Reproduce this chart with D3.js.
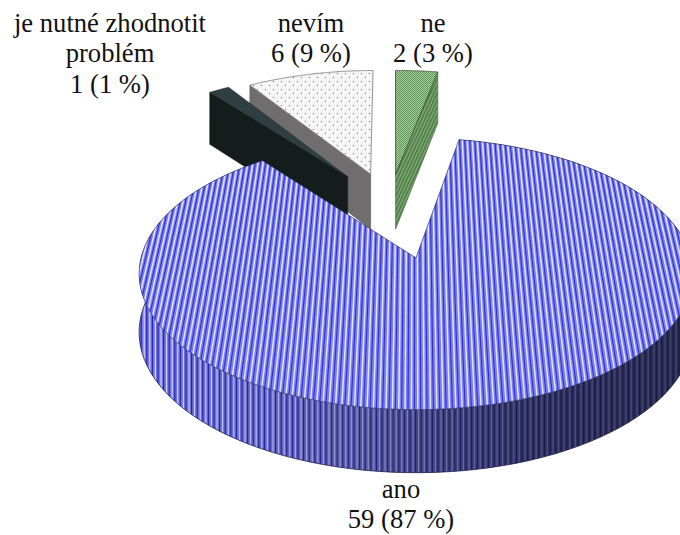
<!DOCTYPE html>
<html>
<head>
<meta charset="utf-8">
<style>
html,body{margin:0;padding:0;background:#fff}
svg{display:block}
text{font-family:"Liberation Serif","Times New Roman",serif;font-size:26.6px;fill:#111;text-anchor:middle}
</style>
<script src="https://cdn.jsdelivr.net/npm/d3@7"></script>
</head>
<body>
<svg id="chart" width="680" height="535"></svg>
<script>
// Survey answers, in drawing order round the pie
const categories = ["ano", "je nutné zhodnotit problém", "nevím", "ne"];
const counts = [59, 1, 6, 2];
const labelLines = [
  ["ano", "59 (87 %)"],
  ["je nutné zhodnotit", "problém", "1 (1 %)"],
  ["nevím", "6 (9 %)"],
  ["ne", "2 (3 %)"]
];
const labelAnchors = [[401, 498], [110, 32], [311, 32], [433, 32]];
const explode = [0.427, 0.29, 0.27, 0.26];
const hub = [-0.096, 0.416];
const firstAngle = 10.1 * Math.PI / 180;

const svg = d3.select("#chart");
const defs = svg.append("defs");

// Perspective of the tilted disc: unit-circle plane to screen
const tilt = 0.1176;
const xScale = d3.scaleLinear().domain([-1, 1]).range([414.5 - 275, 414.5 + 275]);
const yScale = d3.scaleLinear().domain([-1, 1]).range([258 + 134, 258 - 134]);
const thickness = v => 58 / (1 + 0.08 * v);
const project = (u, v, lower = false) => {
  const w = 1 + tilt * v;
  return [xScale(u / w), yScale(v / w) + (lower ? thickness(v) : 0)];
};

const arcs = d3.pie().sort(null).value(d => d)
  .startAngle(firstAngle).endAngle(firstAngle + 2 * Math.PI)(counts);

const slices = arcs.map((a, i) => {
  const mid = (a.startAngle + a.endAngle) / 2;
  const apex = [hub[0] + explode[i] * Math.sin(mid), hub[1] + explode[i] * Math.cos(mid)];
  const rim = t => [apex[0] + Math.sin(t), apex[1] + Math.cos(t)];
  return { a, apex, rim, name: categories[i] };
});

const line = d3.line();
const rimPoints = (s, t0, t1) => d3.range(0, 121).map(k => s.rim(t0 + (t1 - t0) * k / 120));
const facePath = s =>
  line([s.apex, ...rimPoints(s, s.a.startAngle, s.a.endAngle)].map(p => project(p[0], p[1]))) + "Z";
const strip = pts =>
  line([...pts.map(p => project(p[0], p[1])), ...pts.slice().reverse().map(p => project(p[0], p[1], true))]) + "Z";

// Fill patterns for the small slices
const dots = defs.append("pattern").attr("id", "dots").attr("patternUnits", "userSpaceOnUse")
  .attr("width", 8).attr("height", 8);
dots.append("rect").attr("width", 8).attr("height", 8).attr("fill", "#f6f6f6");
[[1.5, 1.5], [5.5, 5.5]].forEach(c => dots.append("circle")
  .attr("cx", c[0]).attr("cy", c[1]).attr("r", 0.75).attr("fill", "#8d8d8d"));

const weave = defs.append("pattern").attr("id", "weave").attr("patternUnits", "userSpaceOnUse")
  .attr("width", 2).attr("height", 2);
weave.append("rect").attr("width", 2).attr("height", 2).attr("fill", "#a3cd9a");
weave.append("rect").attr("width", 1).attr("height", 1).attr("fill", "#64975c");
weave.append("rect").attr("x", 1).attr("y", 1).attr("width", 1).attr("height", 1).attr("fill", "#64975c");

const hatch = defs.append("pattern").attr("id", "hatch").attr("patternUnits", "userSpaceOnUse")
  .attr("width", 3).attr("height", 3).attr("patternTransform", "rotate(25)");
hatch.append("rect").attr("width", 3).attr("height", 3).attr("fill", "#7ba772");
hatch.append("rect").attr("width", 1.2).attr("height", 3).attr("fill", "#47703f");

// Side shading of the large slice, darkening from left to right
const wallTone = (id, stops) => {
  const g = defs.append("linearGradient").attr("id", id).attr("gradientUnits", "userSpaceOnUse")
    .attr("x1", 139).attr("x2", 680).attr("y1", 0).attr("y2", 0);
  stops.forEach(s => g.append("stop").attr("offset", s[0]).attr("stop-color", s[1]));
};
wallTone("wallBase", [[0, "#7678de"], [0.2, "#6a6cc8"], [0.4, "#5658a4"], [0.55, "#3e4084"], [0.75, "#2e3066"], [1, "#2a2c5c"]]);
wallTone("wallDark", [[0, "#2424c4"], [0.2, "#2424b4"], [0.45, "#26267e"], [0.7, "#1a1a48"], [1, "#171738"]]);
wallTone("wallLight", [[0, "#dcdcf6"], [0.2, "#babce8"], [0.45, "#8c8ebc"], [0.7, "#555778"], [1, "#44465e"]]);

// Back slices first, so nearer ones cover them
const [big, sliver, unsure, no] = slices;

// "ne": cut face on the right, then its top
svg.append("path").attr("fill", "url(#hatch)").attr("stroke", "#3d5c37").attr("stroke-width", 0.6)
  .attr("d", strip([no.apex, no.rim(no.a.endAngle)]));
svg.append("path").attr("fill", "url(#weave)").attr("stroke", "#33502d").attr("stroke-width", 0.8)
  .attr("d", facePath(no));

// "nevím"
svg.append("path").attr("fill", "#6f6d6d").attr("stroke", "#4a4a4a").attr("stroke-width", 0.5)
  .attr("d", strip([unsure.apex, unsure.rim(unsure.a.startAngle)]));
svg.append("path").attr("fill", "url(#dots)").attr("stroke", "#777").attr("stroke-width", 0.8)
  .attr("d", facePath(unsure));

// "je nutné zhodnotit problém"
svg.append("path").attr("fill", "#141c1c").attr("stroke", "#0c1010").attr("stroke-width", 0.5)
  .attr("d", strip([sliver.apex, sliver.rim(sliver.a.startAngle)]));
svg.append("path").attr("fill", "#2f3e42").attr("stroke", "#1d2729").attr("stroke-width", 0.5)
  .attr("d", facePath(sliver));

// "ano": outer wall with its stripes
const wallD = strip(rimPoints(big, big.a.startAngle, big.a.endAngle));
defs.append("clipPath").attr("id", "wallClip").append("path").attr("d", wallD).attr("clip-rule", "evenodd");
svg.append("path").attr("d", wallD).attr("fill", "url(#wallBase)");
const wallLines = svg.append("g").attr("clip-path", "url(#wallClip)");
const wallStep = 5.6;
const wallX = d3.range(130, 690, wallStep);
wallLines.selectAll("line.dark").data(wallX).join("line").attr("class", "dark")
  .attr("x1", d => d).attr("x2", d => d + 0.01).attr("y1", 140).attr("y2", 490)
  .attr("stroke", "url(#wallDark)").attr("stroke-width", 1.2);
wallLines.selectAll("line.light").data(wallX).join("line").attr("class", "light")
  .attr("x1", d => d + 3).attr("x2", d => d + 3.01).attr("y1", 140).attr("y2", 490)
  .attr("stroke", "url(#wallLight)").attr("stroke-width", 1.1);
svg.append("path").attr("fill", "none").attr("stroke", "#22224e").attr("stroke-width", 0.8)
  .attr("d", line(rimPoints(big, big.a.startAngle, big.a.endAngle).map(p => project(p[0], p[1], true))));

// "ano": top face, striped along the plane so the lines converge with distance
const bigFace = facePath(big);
defs.append("clipPath").attr("id", "faceClip").append("path").attr("d", bigFace);
svg.append("path").attr("d", bigFace).attr("fill", "#7b7fec");
const stripes = svg.append("g").attr("clip-path", "url(#faceClip)");
const stripeStep = 5.6 / 275;
const stripeU = d3.range(-1.1, 1.1, stripeStep);
const stripePath = (u) => line([project(u, -1.2), project(u, 1.2)]);
stripes.selectAll("path.dark").data(stripeU).join("path").attr("class", "dark")
  .attr("d", stripePath).attr("fill", "none").attr("stroke", "#3030d4").attr("stroke-width", 1.1);
stripes.selectAll("path.light").data(stripeU).join("path").attr("class", "light")
  .attr("d", u => stripePath(u + 3 / 275)).attr("fill", "none").attr("stroke", "#e2e5ff").attr("stroke-width", 1.5);
svg.append("path").attr("d", bigFace).attr("fill", "none").attr("stroke", "#20204e").attr("stroke-width", 0.8)
  .attr("stroke-opacity", 0.75);

// Category labels
const leading = 30.4;
labelLines.forEach((lines, i) => {
  lines.forEach((t, j) => {
    svg.append("text").attr("x", labelAnchors[i][0]).attr("y", labelAnchors[i][1] + j * leading).text(t);
  });
});
</script>
</body>
</html>
